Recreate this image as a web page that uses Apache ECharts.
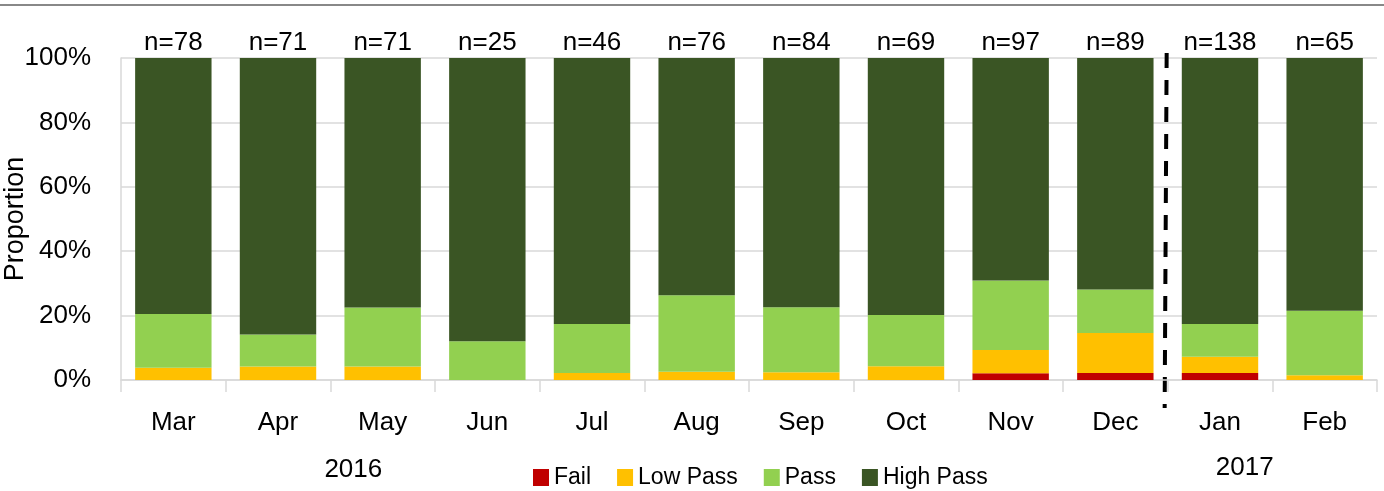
<!DOCTYPE html>
<html>
<head>
<meta charset="utf-8">
<script src="https://cdn.jsdelivr.net/npm/echarts@6/dist/echarts.min.js"></script>
<style>
html, body { margin: 0; padding: 0; background: #fff; }
#chart { width: 1384px; height: 491px; }
</style>
</head>
<body>
<div id="chart"></div>
<script>
//== data (percent of students per month)
var months = ['Mar', 'Apr', 'May', 'Jun', 'Jul', 'Aug', 'Sep', 'Oct', 'Nov', 'Dec', 'Jan', 'Feb'];
var counts = [78, 71, 71, 25, 46, 76, 84, 69, 97, 89, 138, 65];
var fail = [0, 0, 0, 0, 0, 0, 0, 0, 2.1, 2.2, 2.2, 0];
var lowPass = [3.8, 4.2, 4.2, 0, 2.2, 2.6, 2.4, 4.3, 7.2, 12.4, 5.0, 1.5];
var pass = [16.7, 9.9, 18.3, 12.0, 15.2, 23.7, 20.2, 15.9, 21.6, 13.5, 10.2, 20.0];
var highPass = [79.5, 85.9, 77.5, 88.0, 82.6, 73.7, 77.4, 79.8, 69.1, 71.9, 82.6, 78.5];
var yTicks = [0, 20, 40, 60, 80, 100];
var years = ['2016', '2017'];

var font = "'Liberation Sans', sans-serif";

var mChart = function () {
    var barSeries = function (name, data, color) {
        return {
            name: name,
            type: 'bar',
            stack: 'total',
            barCategoryGap: '27%',
            data: data,
            itemStyle: {color: color}
        };
    };

    var init = function () {
        var myChart = echarts.init(document.getElementById('chart'));
        var top = barSeries('High Pass', highPass, '#3a5524');
        top.label = {
            show: true,
            position: 'top',
            distance: 2,
            color: '#000',
            fontFamily: font,
            fontSize: 26,
            formatter: function (p) { return 'n=' + counts[p.dataIndex]; }
        };
        var option = {
            animation: false,
            textStyle: {fontFamily: font},
            grid: {left: 121, right: 7, top: 58, bottom: 111, outerBoundsMode: 'none', containLabel: false},
            legend: {
                left: 528,
                top: 461,
                itemWidth: 16,
                itemHeight: 17,
                itemGap: 26,
                icon: 'rect',
                textStyle: {fontSize: 23, color: '#000', fontFamily: font},
                data: ['Fail', 'Low Pass', 'Pass', 'High Pass']
            },
            xAxis: {
                type: 'category',
                data: months,
                axisLine: {lineStyle: {color: '#d9d9d9', width: 1.5}},
                axisTick: {show: true, interval: 0, length: 12, lineStyle: {color: '#d9d9d9', width: 1.5}},
                axisLabel: {color: '#000', fontSize: 26, margin: 30, fontFamily: font}
            },
            yAxis: {
                type: 'value',
                min: yTicks[0],
                max: yTicks[yTicks.length - 1],
                interval: 20,
                axisLine: {show: true, lineStyle: {color: '#d9d9d9', width: 1.5}},
                axisTick: {show: false},
                splitLine: {lineStyle: {color: '#d9d9d9', width: 1.5}},
                axisLabel: {color: '#000', fontSize: 26, margin: 30, formatter: '{value}%', fontFamily: font}
            },
            series: [
                barSeries('Fail', fail, '#c00000'),
                barSeries('Low Pass', lowPass, '#ffc000'),
                barSeries('Pass', pass, '#92d050'),
                top
            ]
        };
        myChart.setOption(option);

        // divider between the years, placed from the axis
        var xDec = myChart.convertToPixel({xAxisIndex: 0}, 'Dec');
        var xJan = myChart.convertToPixel({xAxisIndex: 0}, 'Jan');
        var xSplit = (xDec + xJan) / 2;
        var xMar = myChart.convertToPixel({xAxisIndex: 0}, 'Mar');
        var yMid = myChart.convertToPixel({yAxisIndex: 0}, 50);
        myChart.setOption({
            graphic: [
                {type: 'line', shape: {x1: 0, y1: 5, x2: 1384, y2: 5}, style: {stroke: '#888', lineWidth: 2}},
                {type: 'line', shape: {x1: xSplit - 1, y1: 53, x2: xSplit - 3, y2: 408},
                    style: {stroke: '#000', lineWidth: 4, lineDash: [15, 12]}},
                {type: 'text', x: 16, y: yMid, rotation: Math.PI / 2,
                    style: {text: 'Proportion', fill: '#000', font: '27px ' + font, textAlign: 'center', textVerticalAlign: 'middle'}},
                {type: 'text', x: xMar + 180, y: 470, style: {text: years[0], fill: '#000', font: '26px ' + font, textAlign: 'center', textVerticalAlign: 'middle'}},
                {type: 'text', x: xSplit + 77, y: 468, style: {text: years[1], fill: '#000', font: '26px ' + font, textAlign: 'center', textVerticalAlign: 'middle'}}
            ]
        });
    };
    return {
        init: function () {
            init();
        }
    };
}();

mChart.init();
</script>
</body>
</html>
